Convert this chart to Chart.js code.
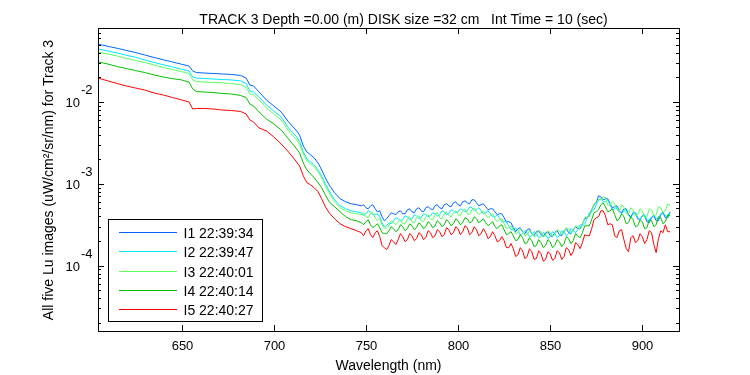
<!DOCTYPE html>
<html>
<head>
<meta charset="utf-8">
<title>TRACK 3 Lu images</title>
<script src="https://cdn.jsdelivr.net/npm/chart.js@4.4.0/dist/chart.umd.min.js"></script>
<style>
  html, body { margin: 0; padding: 0; background: #fff; }
  canvas { display: block; }
</style>
</head>
<body>
<canvas id="luChart" width="750" height="375"></canvas>
<script>
// wavelength (nm)
const wavelengths = [
  605, 610, 615, 620, 625, 630, 635, 640, 645, 650,
  654, 656, 658, 662, 667, 672, 677, 682, 685, 687,
  689, 692, 696, 700, 704, 708, 712, 714, 716, 718,
  720, 722, 724, 726, 728, 730, 733, 736, 739, 742,
  745,
  747.5, 750, 752.5, 755, 757.5, 760, 762.5, 765, 767.5, 770,
  772.5, 775, 777.5, 780, 782.5, 785, 787.5, 790, 792.5, 795,
  797.5, 800, 802.5, 805, 807.5, 810, 812.5, 815, 817.5, 820,
  822.5, 825, 827.5, 830, 832.5, 835, 837.5, 840, 842.5, 845,
  847.5, 850, 852.5, 855, 857.5, 860, 862.5, 865, 867.5, 870,
  872.5, 875, 877.5, 880, 882.5, 885, 887.5, 890, 892.5, 895,
  897.5, 900, 902.5, 905, 907.5, 910, 912.5, 915
];
// extra samples in the noisy part of the spectrum
const wavelengthsMid = [
  748.75, 751.25, 753.75, 756.25, 758.75, 761.25, 763.75, 766.25, 768.75, 771.25,
  773.75, 776.25, 778.75, 781.25, 783.75, 786.25, 788.75, 791.25, 793.75, 796.25,
  798.75, 801.25, 803.75, 806.25, 808.75, 811.25, 813.75, 816.25, 818.75, 821.25,
  823.75, 826.25, 828.75, 831.25, 833.75, 836.25, 838.75, 841.25, 843.75, 846.25,
  848.75, 851.25, 853.75, 856.25, 858.75, 861.25, 863.75, 866.25, 868.75, 871.25,
  873.75, 876.25, 878.75, 881.25, 883.75, 886.25, 888.75, 891.25, 893.75, 896.25,
  898.75, 901.25, 903.75, 906.25, 908.75, 911.25, 913.75
];

// Lu (uW/cm2/sr/nm), one array per image
const i1 = [
  5.07e-2, 4.79e-2, 4.53e-2, 4.26e-2, 4.02e-2, 3.75e-2, 3.50e-2, 3.28e-2, 3.08e-2, 2.89e-2,
  2.75e-2, 2.39e-2, 2.29e-2, 2.26e-2, 2.23e-2, 2.20e-2, 2.17e-2, 2.11e-2, 1.96e-2, 1.61e-2,
  1.57e-2, 1.325e-2, 1.058e-2, 8.94e-3, 7.55e-3, 5.70e-3, 4.55e-3, 3.96e-3, 2.90e-3, 2.45e-3,
  2.25e-3, 2.07e-3, 1.80e-3, 1.48e-3, 1.18e-3, 9.72e-4, 7.77e-4, 6.56e-4, 6.03e-4, 5.70e-4,
  5.55e-4,
  5.39e-4, 5.10e-4, 5.39e-4, 4.95e-4, 4.68e-4, 3.54e-4, 4.07e-4, 4.31e-4, 4.55e-4, 4.31e-4,
  4.82e-4, 4.55e-4, 4.95e-4, 4.68e-4, 5.10e-4, 4.95e-4, 5.39e-4, 5.10e-4, 5.55e-4, 5.39e-4,
  5.87e-4, 5.55e-4, 6.03e-4, 5.87e-4, 6.38e-4, 5.87e-4, 5.55e-4, 5.24e-4, 4.95e-4, 4.55e-4,
  4.31e-4, 3.85e-4, 3.44e-4, 2.91e-4, 2.83e-4, 2.60e-4, 2.75e-4, 2.46e-4, 2.60e-4, 2.39e-4,
  2.53e-4, 2.32e-4, 2.53e-4, 2.39e-4, 2.67e-4, 2.53e-4, 2.75e-4, 2.83e-4, 3.25e-4, 3.85e-4,
  4.82e-4, 5.87e-4, 6.94e-4, 6.56e-4, 5.70e-4, 5.24e-4, 4.68e-4, 4.95e-4, 4.19e-4, 4.43e-4,
  3.74e-4, 4.07e-4, 3.44e-4, 3.85e-4, 3.54e-4, 4.19e-4, 3.85e-4, 4.55e-4
];
const i1Mid = [
  5.55e-4, 4.95e-4, 5.55e-4, 4.55e-4, 3.96e-4, 3.74e-4, 4.43e-4, 4.19e-4, 4.68e-4, 4.31e-4,
  4.95e-4, 4.43e-4, 5.10e-4, 4.55e-4, 5.24e-4, 4.82e-4, 5.55e-4, 4.95e-4, 5.70e-4, 5.24e-4,
  6.03e-4, 5.39e-4, 6.20e-4, 5.70e-4, 6.38e-4, 5.39e-4, 5.70e-4, 4.82e-4, 4.95e-4, 4.19e-4,
  4.31e-4, 3.44e-4, 3.34e-4, 2.60e-4, 2.91e-4, 2.46e-4, 2.83e-4, 2.32e-4, 2.67e-4, 2.26e-4,
  2.60e-4, 2.26e-4, 2.67e-4, 2.32e-4, 2.83e-4, 2.46e-4, 2.99e-4, 2.83e-4, 3.74e-4, 4.07e-4,
  5.55e-4, 7.14e-4, 6.38e-4, 6.56e-4, 5.10e-4, 5.39e-4, 4.43e-4, 4.95e-4, 3.96e-4, 4.43e-4,
  3.64e-4, 4.07e-4, 3.34e-4, 4.07e-4, 3.54e-4, 4.43e-4, 3.85e-4
];
const i2 = [
  4.44e-2, 4.20e-2, 3.97e-2, 3.72e-2, 3.52e-2, 3.26e-2, 3.04e-2, 2.85e-2, 2.68e-2, 2.51e-2,
  2.39e-2, 2.02e-2, 1.96e-2, 1.94e-2, 1.91e-2, 1.88e-2, 1.86e-2, 1.81e-2, 1.68e-2, 1.36e-2,
  1.325e-2, 1.151e-2, 9.19e-3, 7.77e-3, 6.56e-3, 4.82e-3, 3.84e-3, 3.30e-3, 2.45e-3, 2.01e-3,
  1.85e-3, 1.70e-3, 1.48e-3, 1.25e-3, 1.00e-3, 8.22e-4, 6.38e-4, 5.39e-4, 4.95e-4, 4.68e-4,
  4.55e-4,
  4.43e-4, 4.31e-4, 4.55e-4, 4.19e-4, 3.96e-4, 2.99e-4, 3.34e-4, 3.54e-4, 3.74e-4, 3.64e-4,
  3.96e-4, 3.74e-4, 4.07e-4, 3.85e-4, 4.19e-4, 4.07e-4, 4.31e-4, 4.19e-4, 4.55e-4, 4.31e-4,
  4.68e-4, 4.55e-4, 4.82e-4, 4.68e-4, 5.10e-4, 4.82e-4, 4.68e-4, 4.43e-4, 4.31e-4, 3.96e-4,
  3.85e-4, 3.44e-4, 3.07e-4, 2.75e-4, 2.67e-4, 2.46e-4, 2.53e-4, 2.32e-4, 2.46e-4, 2.26e-4,
  2.39e-4, 2.26e-4, 2.46e-4, 2.32e-4, 2.60e-4, 2.46e-4, 2.67e-4, 2.75e-4, 3.07e-4, 3.74e-4,
  4.55e-4, 5.55e-4, 6.56e-4, 6.03e-4, 5.55e-4, 4.95e-4, 4.55e-4, 4.68e-4, 4.07e-4, 4.31e-4,
  3.85e-4, 4.07e-4, 3.64e-4, 3.96e-4, 3.74e-4, 4.31e-4, 4.07e-4, 4.55e-4
];
const i2Mid = [
  4.07e-4, 4.68e-4, 4.19e-4, 4.31e-4, 3.34e-4, 3.07e-4, 3.25e-4, 3.85e-4, 3.54e-4, 4.07e-4,
  3.64e-4, 4.19e-4, 3.74e-4, 4.31e-4, 3.96e-4, 4.43e-4, 4.07e-4, 4.68e-4, 4.19e-4, 4.82e-4,
  4.43e-4, 4.95e-4, 4.55e-4, 5.24e-4, 4.68e-4, 5.10e-4, 4.31e-4, 4.68e-4, 3.96e-4, 4.19e-4,
  3.44e-4, 3.44e-4, 2.75e-4, 2.91e-4, 2.39e-4, 2.67e-4, 2.26e-4, 2.60e-4, 2.20e-4, 2.53e-4,
  2.14e-4, 2.60e-4, 2.20e-4, 2.67e-4, 2.32e-4, 2.83e-4, 2.53e-4, 3.16e-4, 3.25e-4, 4.43e-4,
  4.82e-4, 6.38e-4, 6.03e-4, 6.38e-4, 4.82e-4, 5.24e-4, 4.31e-4, 4.82e-4, 3.85e-4, 4.43e-4,
  3.64e-4, 4.19e-4, 3.54e-4, 4.19e-4, 3.74e-4, 4.55e-4, 3.96e-4
];
const i3 = [
  4.05e-2, 3.86e-2, 3.65e-2, 3.40e-2, 3.21e-2, 3.04e-2, 2.83e-2, 2.64e-2, 2.49e-2, 2.35e-2,
  2.23e-2, 1.86e-2, 1.78e-2, 1.75e-2, 1.73e-2, 1.71e-2, 1.68e-2, 1.63e-2, 1.52e-2, 1.252e-2,
  1.218e-2, 1.058e-2, 8.45e-3, 7.14e-3, 6.03e-3, 4.43e-3, 3.54e-3, 3.07e-3, 2.32e-3, 1.90e-3,
  1.75e-3, 1.61e-3, 1.40e-3, 1.18e-3, 9.45e-4, 7.77e-4, 6.03e-4, 5.10e-4, 4.68e-4, 4.43e-4,
  4.31e-4,
  4.19e-4, 3.96e-4, 4.31e-4, 3.85e-4, 3.74e-4, 2.83e-4, 3.07e-4, 3.34e-4, 3.44e-4, 3.25e-4,
  3.74e-4, 3.44e-4, 3.85e-4, 3.54e-4, 3.96e-4, 3.74e-4, 4.19e-4, 3.85e-4, 4.31e-4, 4.07e-4,
  4.43e-4, 4.19e-4, 4.68e-4, 4.31e-4, 4.82e-4, 4.55e-4, 4.43e-4, 4.19e-4, 4.07e-4, 3.74e-4,
  3.64e-4, 3.25e-4, 2.91e-4, 2.75e-4, 2.53e-4, 2.67e-4, 2.39e-4, 2.53e-4, 2.32e-4, 2.60e-4,
  2.32e-4, 2.53e-4, 2.39e-4, 2.67e-4, 2.53e-4, 2.83e-4, 2.67e-4, 2.99e-4, 3.16e-4, 3.96e-4,
  4.68e-4, 5.87e-4, 6.38e-4, 6.75e-4, 5.39e-4, 5.70e-4, 4.55e-4, 5.24e-4, 4.31e-4, 4.82e-4,
  4.19e-4, 4.68e-4, 3.96e-4, 4.82e-4, 4.19e-4, 5.10e-4, 4.68e-4, 5.39e-4
];
const i3Mid = [
  4.43e-4, 3.85e-4, 4.43e-4, 3.54e-4, 3.16e-4, 2.91e-4, 3.54e-4, 3.16e-4, 3.64e-4, 3.25e-4,
  3.96e-4, 3.34e-4, 4.07e-4, 3.44e-4, 4.19e-4, 3.64e-4, 4.43e-4, 3.74e-4, 4.55e-4, 3.96e-4,
  4.68e-4, 4.07e-4, 4.95e-4, 4.19e-4, 5.10e-4, 4.19e-4, 4.68e-4, 3.85e-4, 4.31e-4, 3.44e-4,
  3.74e-4, 2.83e-4, 3.07e-4, 2.46e-4, 2.83e-4, 2.32e-4, 2.67e-4, 2.26e-4, 2.67e-4, 2.26e-4,
  2.67e-4, 2.26e-4, 2.75e-4, 2.39e-4, 2.91e-4, 2.53e-4, 3.07e-4, 2.83e-4, 3.85e-4, 3.96e-4,
  5.70e-4, 6.38e-4, 6.94e-4, 5.55e-4, 6.03e-4, 4.82e-4, 5.55e-4, 4.31e-4, 5.10e-4, 4.07e-4,
  4.95e-4, 3.85e-4, 4.95e-4, 4.07e-4, 5.24e-4, 4.43e-4, 5.70e-4
];
const i4 = [
  3.08e-2, 2.91e-2, 2.71e-2, 2.56e-2, 2.42e-2, 2.29e-2, 2.14e-2, 2.02e-2, 1.93e-2, 1.86e-2,
  1.75e-2, 1.44e-2, 1.34e-2, 1.325e-2, 1.306e-2, 1.27e-2, 1.252e-2, 1.201e-2, 1.135e-2, 9.45e-3,
  8.94e-3, 7.55e-3, 6.20e-3, 5.39e-3, 4.55e-3, 3.54e-3, 2.74e-3, 2.38e-3, 1.80e-3, 1.48e-3,
  1.32e-3, 1.18e-3, 1.03e-3, 8.94e-4, 7.34e-4, 6.03e-4, 5.24e-4, 4.55e-4, 3.96e-4, 3.64e-4,
  3.54e-4,
  3.34e-4, 3.44e-4, 3.16e-4, 3.07e-4, 2.91e-4, 2.46e-4, 2.67e-4, 2.83e-4, 2.75e-4, 2.99e-4,
  2.83e-4, 3.07e-4, 2.91e-4, 3.16e-4, 2.99e-4, 3.25e-4, 3.07e-4, 3.34e-4, 3.16e-4, 3.44e-4,
  3.25e-4, 3.54e-4, 3.34e-4, 3.74e-4, 3.44e-4, 3.74e-4, 3.54e-4, 3.34e-4, 3.25e-4, 2.99e-4,
  3.07e-4, 2.75e-4, 2.46e-4, 2.32e-4, 2.08e-4, 2.20e-4, 1.91e-4, 2.02e-4, 1.76e-4, 1.91e-4,
  1.76e-4, 1.96e-4, 1.76e-4, 1.96e-4, 1.86e-4, 2.14e-4, 2.02e-4, 2.32e-4, 2.53e-4, 3.07e-4,
  3.64e-4, 4.55e-4, 5.55e-4, 5.24e-4, 4.68e-4, 4.19e-4, 3.74e-4, 3.96e-4, 3.34e-4, 3.64e-4,
  3.07e-4, 3.44e-4, 2.91e-4, 3.54e-4, 3.16e-4, 3.85e-4, 3.44e-4, 4.07e-4
];
const i4Mid = [
  3.16e-4, 3.64e-4, 2.91e-4, 3.25e-4, 2.53e-4, 2.46e-4, 2.99e-4, 2.60e-4, 3.16e-4, 2.67e-4,
  3.25e-4, 2.75e-4, 3.34e-4, 2.83e-4, 3.44e-4, 2.91e-4, 3.54e-4, 2.99e-4, 3.64e-4, 3.07e-4,
  3.74e-4, 3.16e-4, 3.85e-4, 3.34e-4, 3.96e-4, 3.34e-4, 3.74e-4, 3.07e-4, 3.44e-4, 2.83e-4,
  3.16e-4, 2.39e-4, 2.60e-4, 2.02e-4, 2.39e-4, 1.86e-4, 2.20e-4, 1.71e-4, 2.08e-4, 1.66e-4,
  2.08e-4, 1.66e-4, 2.08e-4, 1.71e-4, 2.26e-4, 1.86e-4, 2.46e-4, 2.20e-4, 3.07e-4, 3.07e-4,
  4.43e-4, 4.82e-4, 5.87e-4, 4.55e-4, 4.95e-4, 3.54e-4, 4.31e-4, 3.25e-4, 3.96e-4, 2.99e-4,
  3.64e-4, 2.83e-4, 3.64e-4, 2.99e-4, 3.96e-4, 3.25e-4, 4.19e-4
];
const i5 = [
  1.95e-2, 1.81e-2, 1.68e-2, 1.57e-2, 1.48e-2, 1.40e-2, 1.288e-2, 1.218e-2, 1.135e-2, 1.058e-2,
  1.00e-2, 8.22e-3, 8.33e-3, 8.33e-3, 8.22e-3, 7.98e-3, 7.87e-3, 7.66e-3, 7.14e-3, 6.03e-3,
  5.70e-3, 4.82e-3, 4.43e-3, 3.74e-3, 3.07e-3, 2.45e-3, 1.90e-3, 1.65e-3, 1.25e-3, 1.03e-3,
  9.72e-4, 8.94e-4, 7.99e-4, 6.56e-4, 5.24e-4, 4.43e-4, 3.74e-4, 3.25e-4, 2.99e-4, 2.83e-4,
  2.67e-4,
  2.53e-4, 2.67e-4, 2.39e-4, 2.53e-4, 2.26e-4, 1.66e-4, 1.76e-4, 1.96e-4, 2.08e-4, 2.26e-4,
  2.08e-4, 2.32e-4, 2.14e-4, 2.39e-4, 2.20e-4, 2.53e-4, 2.32e-4, 2.60e-4, 2.39e-4, 2.75e-4,
  2.53e-4, 2.83e-4, 2.60e-4, 2.91e-4, 2.53e-4, 2.75e-4, 2.46e-4, 2.53e-4, 2.26e-4, 2.32e-4,
  2.02e-4, 2.02e-4, 1.66e-4, 1.61e-4, 1.36e-4, 1.52e-4, 1.29e-4, 1.48e-4, 1.22e-4, 1.40e-4,
  1.19e-4, 1.40e-4, 1.22e-4, 1.44e-4, 1.29e-4, 1.57e-4, 1.48e-4, 1.81e-4, 1.91e-4, 2.32e-4,
  2.83e-4, 3.85e-4, 4.68e-4, 4.07e-4, 3.25e-4, 2.32e-4, 2.67e-4, 2.08e-4, 1.48e-4, 2.32e-4,
  2.02e-4, 2.26e-4, 2.08e-4, 2.53e-4, 1.44e-4, 2.67e-4, 3.16e-4, 2.60e-4
];
const i5Mid = [
  2.32e-4, 2.83e-4, 2.20e-4, 2.67e-4, 1.76e-4, 1.57e-4, 2.08e-4, 1.81e-4, 2.46e-4, 1.96e-4,
  2.46e-4, 2.02e-4, 2.53e-4, 2.08e-4, 2.67e-4, 2.20e-4, 2.75e-4, 2.26e-4, 2.91e-4, 2.39e-4,
  2.99e-4, 2.39e-4, 3.07e-4, 2.39e-4, 2.99e-4, 2.32e-4, 2.83e-4, 2.14e-4, 2.60e-4, 1.96e-4,
  2.26e-4, 1.66e-4, 1.86e-4, 1.29e-4, 1.66e-4, 1.22e-4, 1.61e-4, 1.19e-4, 1.52e-4, 1.13e-4,
  1.48e-4, 1.16e-4, 1.52e-4, 1.19e-4, 1.66e-4, 1.33e-4, 1.91e-4, 1.61e-4, 2.39e-4, 2.32e-4,
  3.64e-4, 3.96e-4, 4.68e-4, 3.16e-4, 3.16e-4, 2.20e-4, 2.75e-4, 1.61e-4, 2.20e-4, 1.91e-4,
  2.46e-4, 1.86e-4, 2.67e-4, 1.81e-4, 2.14e-4, 2.53e-4, 2.60e-4
];

const seriesNames = ['I1 22:39:34', 'I2 22:39:47', 'I3 22:40:01', 'I4 22:40:14', 'I5 22:40:27'];
const seriesColors = ['#0066ff', '#00e6ff', '#5cff5c', '#00c000', '#ff0000'];
const xTicks = [650, 700, 750, 800, 850, 900];
const yDecades = [-4, -3, -2];

const FONT = '"Liberation Sans", Arial, Helvetica, sans-serif';

// MATLAB style box, inward ticks, labels and the boxed legend
const matlabFrame = {
  id: 'matlabFrame',
  afterDraw(chart) {
    const ctx = chart.ctx;
    const a = chart.chartArea;
    const xs = chart.scales.x, ys = chart.scales.y;
    ctx.save();
    ctx.strokeStyle = '#000';
    ctx.fillStyle = '#000';
    ctx.lineWidth = 1;

    ctx.strokeRect(a.left + 0.5, a.top + 0.5, a.right - a.left, a.bottom - a.top);

    // x ticks + labels
    ctx.font = '13px ' + FONT;
    ctx.textAlign = 'center';
    ctx.textBaseline = 'alphabetic';
    xTicks.forEach(v => {
      const px = Math.round(xs.getPixelForValue(v)) + 0.5;
      ctx.beginPath();
      ctx.moveTo(px, a.bottom); ctx.lineTo(px, a.bottom - 6);
      ctx.moveTo(px, a.top); ctx.lineTo(px, a.top + 6);
      ctx.stroke();
      ctx.fillText(String(v), px, 350);
    });

    // y log ticks, major and minor, both sides
    for (let e = -5; e <= -1; e++) {
      for (let k = 1; k <= 9; k++) {
        const v = k * Math.pow(10, e);
        if (v < ys.min || v > ys.max) continue;
        const py = Math.round(ys.getPixelForValue(v)) + 0.5;
        const len = k === 1 ? 6 : 3;
        ctx.beginPath();
        ctx.moveTo(a.left, py); ctx.lineTo(a.left + len, py);
        ctx.moveTo(a.right, py); ctx.lineTo(a.right - len, py);
        ctx.stroke();
      }
    }

    // y labels 10^n
    yDecades.forEach(e => {
      const py = ys.getPixelForValue(Math.pow(10, e));
      ctx.textAlign = 'right';
      ctx.fillText('10', 80, py + 5);
      ctx.textAlign = 'left';
      ctx.fillText(String(e), 81, py - 7.5);
    });

    // title and axis titles
    ctx.font = '14px ' + FONT;
    ctx.textAlign = 'center';
    ctx.fillText('TRACK 3 Depth =0.00 (m) DISK size =32 cm   Int Time = 10 (sec)', 403.5, 24);
    ctx.fillText('Wavelength (nm)', (a.left + a.right) / 2, 370);
    ctx.save();
    ctx.translate(52.5, 180);
    ctx.rotate(-Math.PI / 2);
    ctx.fillText('All five Lu images (uW/cm\u00B2/sr/nm) for Track 3', 0, 0);
    ctx.restore();

    // legend
    ctx.fillStyle = '#fff';
    ctx.fillRect(108.5, 219.5, 154, 102);
    ctx.strokeStyle = '#000';
    ctx.strokeRect(108.5, 219.5, 154, 102);
    ctx.textAlign = 'left';
    seriesNames.forEach((name, i) => {
      const ry = Math.round(232 + i * 19.3) + 0.5;
      ctx.strokeStyle = seriesColors[i];
      ctx.beginPath();
      ctx.moveTo(119, ry); ctx.lineTo(177, ry);
      ctx.stroke();
      ctx.fillStyle = '#000';
      ctx.fillText(name, 183.5, ry + 5);
    });
    ctx.restore();
  }
};

const seriesData = [[i1, i1Mid], [i2, i2Mid], [i3, i3Mid], [i4, i4Mid], [i5, i5Mid]];

function toPoints(main, mid) {
  const pts = wavelengths.map((w, k) => ({ x: w, y: main[k] }))
    .concat(wavelengthsMid.map((w, k) => ({ x: w, y: mid[k] })));
  return pts.sort((p, q) => p.x - q.x);
}

new Chart(document.getElementById('luChart'), {
  type: 'line',
  data: {
    datasets: seriesData.map((s, i) => ({
      label: seriesNames[i],
      data: toPoints(s[0], s[1]),
      borderColor: seriesColors[i],
      borderWidth: 1,
      pointRadius: 0,
      tension: 0,
      fill: false,
      order: 5 - i
    }))
  },
  options: {
    responsive: false,
    animation: false,
    layout: { padding: { left: 98, top: 28, right: 71, bottom: 44 } },
    plugins: {
      legend: { display: false },
      tooltip: { enabled: false }
    },
    scales: {
      x: { type: 'linear', display: false, min: 604.6, max: 919.9 },
      y: { type: 'logarithmic', display: false, min: 1.59e-5, max: 0.0802 }
    }
  },
  plugins: [matlabFrame]
});
</script>
</body>
</html>
